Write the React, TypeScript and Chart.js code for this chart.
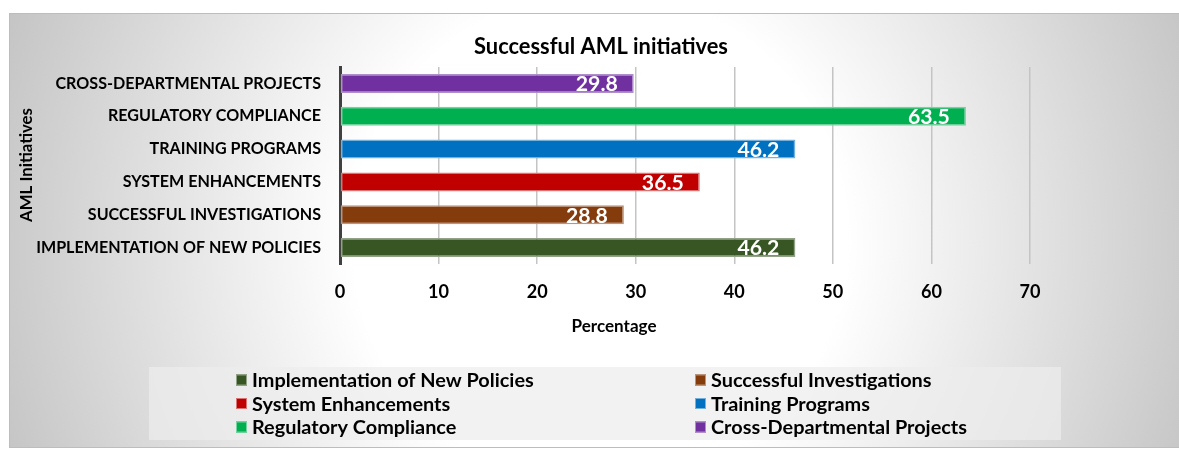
import React, { useEffect, useRef } from 'react';
import { Chart, registerables } from 'chart.js';

Chart.register(...registerables);

const categories = [
  'Implementation of New Policies',
  'Successful Investigations',
  'System Enhancements',
  'Training Programs',
  'Regulatory Compliance',
  'Cross-Departmental Projects',
];
const values = [46.2, 28.8, 36.5, 46.2, 63.5, 29.8];
const barColors = ['#375623', '#843c0c', '#c00000', '#0070c0', '#00b050', '#7030a0'];
const xTickValues = [0, 10, 20, 30, 40, 50, 60, 70];
const chartTitle = 'Successful AML initiatives';
const xAxisTitle = 'Percentage';
const yAxisTitle = 'AML Initiatives';

const FAMILY = 'Lato, "Open Sans", "DejaVu Sans", sans-serif';

function fitSize(text: string, width: number): number {
  const c = document.createElement('canvas').getContext('2d')!;
  c.font = `bold 100px ${FAMILY}`;
  return (100 * width) / c.measureText(text).width;
}

function lighten(hex: string, amt: number): string {
  const n = parseInt(hex.slice(1), 16);
  const r = (n >> 16) & 255, g = (n >> 8) & 255, b = n & 255;
  const m = (v: number) => Math.round(v + (255 - v) * amt);
  return `rgb(${m(r)},${m(g)},${m(b)})`;
}

export default function App() {
  const ref = useRef<HTMLCanvasElement>(null);

  useEffect(() => {
    const titleSize = fitSize(chartTitle, 254);
    const yTickSize = fitSize('IMPLEMENTATION OF NEW POLICIES', 285);
    const xTickSize = fitSize('20', 21);
    const xTitleSize = fitSize(xAxisTitle, 85);
    const yTitleSize = fitSize(yAxisTitle, 114);
    const labelSize = fitSize('63.5', 42);
    const legendSize = fitSize('Implementation of New Policies', 282);

    const decor = {
      id: 'decor',
      beforeDraw(chart: any) {
        const { ctx, width, height } = chart;
        ctx.save();
        ctx.fillStyle = '#ffffff';
        ctx.fillRect(0, 0, width, height);
        const g = ctx.createRadialGradient(600, 240, 0, 600, 240, 650);
        g.addColorStop(0, '#ffffff');
        g.addColorStop(0.38, '#ffffff');
        g.addColorStop(1, '#c2c2c2');
        ctx.fillStyle = g;
        ctx.fillRect(9, 13, width - 9, 435);
        ctx.strokeStyle = '#bdbdbd';
        ctx.lineWidth = 1;
        ctx.strokeRect(9.5, 13.5, width, 434);
        ctx.fillStyle = 'rgba(237,237,237,0.71)';
        ctx.fillRect(149, 367, 912, 73);
        ctx.restore();
      },
      afterDraw(chart: any) {
        const { ctx } = chart;
        ctx.save();
        ctx.fillStyle = '#000000';
        ctx.textBaseline = 'middle';
        // main title
        ctx.textAlign = 'center';
        ctx.font = `bold ${titleSize}px ${FAMILY}`;
        ctx.fillText(chartTitle, 601, 47);
        // x axis title
        ctx.font = `bold ${xTitleSize}px ${FAMILY}`;
        ctx.fillText(xAxisTitle, 614, 326);
        // y axis title
        ctx.save();
        ctx.translate(27, 165);
        ctx.rotate(-Math.PI / 2);
        ctx.font = `bold ${yTitleSize}px ${FAMILY}`;
        ctx.fillText(yAxisTitle, 0, 0);
        ctx.restore();
        // data labels
        const meta = chart.getDatasetMeta(0);
        ctx.fillStyle = '#ffffff';
        ctx.textAlign = 'right';
        ctx.font = `bold ${labelSize}px ${FAMILY}`;
        meta.data.forEach((el: any, i: number) => {
          const v = chart.data.datasets[0].data[i];
          ctx.fillText(String(v), el.x - 16, el.y + 1);
        });
        // legend
        const cols = [236, 695];
        const rows = [380, 403.5, 427];
        ctx.textAlign = 'left';
        ctx.font = `bold ${legendSize}px ${FAMILY}`;
        chart.data.labels.forEach((lab: string, i: number) => {
          const cx = cols[i % 2];
          const cy = rows[Math.floor(i / 2)];
          const col = barColors[i];
          ctx.fillStyle = col;
          ctx.fillRect(cx, cy - 5.5, 11, 11);
          ctx.strokeStyle = lighten(col, 0.45);
          ctx.lineWidth = 1;
          ctx.strokeRect(cx + 0.5, cy - 5, 10, 10);
          ctx.fillStyle = '#000000';
          ctx.fillText(lab, cx + 16, cy + 1);
        });
        ctx.restore();
      },
    };

    const chart = new Chart(ref.current!, {
      type: 'bar',
      data: {
        labels: categories,
        datasets: [
          {
            label: 'Percentage',
            data: values,
            backgroundColor: barColors,
            borderColor: barColors.map((c) => lighten(c, 0.45)),
            borderWidth: 1.5,
            borderSkipped: false,
            categoryPercentage: 1,
            barPercentage: 0.58,
          },
        ],
      },
      options: {
        indexAxis: 'y',
        responsive: true,
        maintainAspectRatio: false,
        animation: false,
        layout: { padding: { left: 9, right: 149, top: 67, bottom: 115 } },
        plugins: {
          legend: { display: false },
          title: { display: false },
          tooltip: { enabled: false },
        },
        scales: {
          x: {
            type: 'linear',
            min: 0,
            max: 70,
            afterBuildTicks: (s: any) => {
              s.ticks = xTickValues.map((v) => ({ value: v }));
            },
            afterFit: (s: any) => {
              s.height = 71;
            },
            grid: { color: '#c4c4c4', lineWidth: 1.5, drawTicks: false },
            border: { display: false },
            ticks: {
              color: '#000000',
              padding: 17,
              font: { family: FAMILY, weight: 'bold', size: xTickSize },
            },
          },
          y: {
            reverse: true,
            afterFit: (s: any) => {
              s.width = 331;
            },
            grid: { display: false, drawTicks: false },
            border: { display: true, color: '#404040', width: 3 },
            ticks: {
              color: '#000000',
              padding: 19,
              font: { family: FAMILY, weight: 'bold', size: yTickSize },
              callback: function (this: any, v: any) {
                return String(this.getLabelForValue(v)).toUpperCase();
              },
            },
          },
        },
      },
      plugins: [decor],
    } as any);

    return () => chart.destroy();
  }, []);

  return (
    <div style={{ position: 'absolute', left: 0, top: 0, width: 1179, height: 450 }}>
      <canvas ref={ref} />
    </div>
  );
}
